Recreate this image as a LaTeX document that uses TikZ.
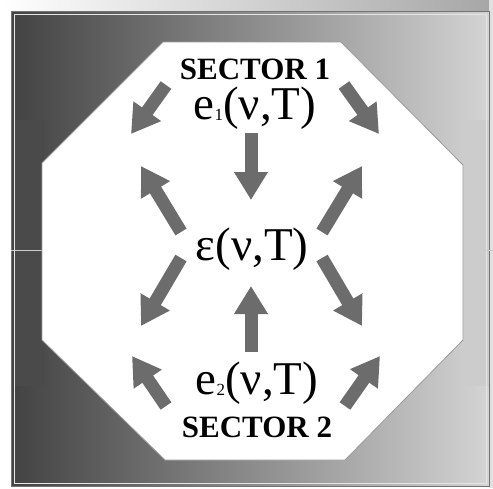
\documentclass[tikz,border=0pt]{standalone}
\usepackage{fontspec}
\setmainfont{Liberation Serif}
\usetikzlibrary{arrows.meta}
\definecolor{arrowgray}{HTML}{6C6C6C}
\definecolor{octedge}{HTML}{9A9A9A}
\tikzset{
  fatarrow/.style={draw=arrowgray, line width=13pt, -{Triangle[width=32pt,length=28pt]}},
  sectorlabel/.style={font=\fontsize{31}{31}\selectfont\bfseries, inner sep=0pt},
  biglabel/.style={font=\fontsize{47}{47}\selectfont, inner sep=0pt}
}
\begin{document}
\begin{tikzpicture}[x=1pt,y=-1pt]
\useasboundingbox (0,0) rectangle (493,488);
% page background
\fill[white] (0,0) rectangle (493,488);
% top shadow band
\shade[left color=white, right color=black!35] (0,0) rectangle (493,10);
\fill[black!12] (489,0) rectangle (493,488);
% framed panel
\shade[left color=black!74, right color=black!17] (11,11) rectangle (489,486);
\shade[top color=black!71, middle color=black, bottom color=black!71] (14,120) rectangle (44,385);
\shade[top color=black!20, middle color=black!3, bottom color=black!20] (460,120) rectangle (489,385);
\draw[black!55, line width=1pt] (11,11) rectangle (489,486);
\draw[black!10, line width=1pt] (14,14) rectangle (486,483);
\draw[black!20, line width=0.8pt] (11,250) -- (493,250);
% octagon
\filldraw[fill=white, draw=octedge, line width=0.8pt]
  (163,42) -- (341,42) -- (463,165) -- (463,340) -- (345,460) -- (165,460) -- (42,340) -- (42,163) -- cycle;
% labels
\node[sectorlabel] (s1) at (255,69) {SECTOR 1};
\node[biglabel] (e1) at (255,108) {e\raisebox{-1pt}{\fontsize{17}{17}\selectfont 1}(ν,T)};
\node[biglabel] (eps) at (252,249) {ε(ν,T)};
\node[biglabel] (e2) at (257,383) {e\raisebox{-1pt}{\fontsize{17}{17}\selectfont 2}(ν,T)};
\node[sectorlabel] (s2) at (257,427) {SECTOR 2};
% arrow endpoints
\coordinate (tlA) at (166,85);  \coordinate (tlB) at (131,134);
\coordinate (trA) at (344,85);  \coordinate (trB) at (379,134);
\coordinate (dA) at (251,133);  \coordinate (dB) at (251,200);
\coordinate (mluA) at (181,232); \coordinate (mluB) at (141,166);
\coordinate (mruA) at (322,232); \coordinate (mruB) at (362,166);
\coordinate (mldA) at (181,258); \coordinate (mldB) at (141,326);
\coordinate (mrdA) at (322,258); \coordinate (mrdB) at (362,326);
\coordinate (uA) at (251,352);  \coordinate (uB) at (251,286);
\coordinate (blA) at (166,406); \coordinate (blB) at (132,356);
\coordinate (brA) at (345,406); \coordinate (brB) at (380,356);
% arrows
\draw[fatarrow] (tlA) -- (tlB);
\draw[fatarrow] (trA) -- (trB);
\draw[fatarrow] (dA) -- (dB);
\draw[fatarrow] (mluA) -- (mluB);
\draw[fatarrow] (mruA) -- (mruB);
\draw[fatarrow] (mldA) -- (mldB);
\draw[fatarrow] (mrdA) -- (mrdB);
\draw[fatarrow] (uA) -- (uB);
\draw[fatarrow] (blA) -- (blB);
\draw[fatarrow] (brA) -- (brB);
\end{tikzpicture}
\end{document}
